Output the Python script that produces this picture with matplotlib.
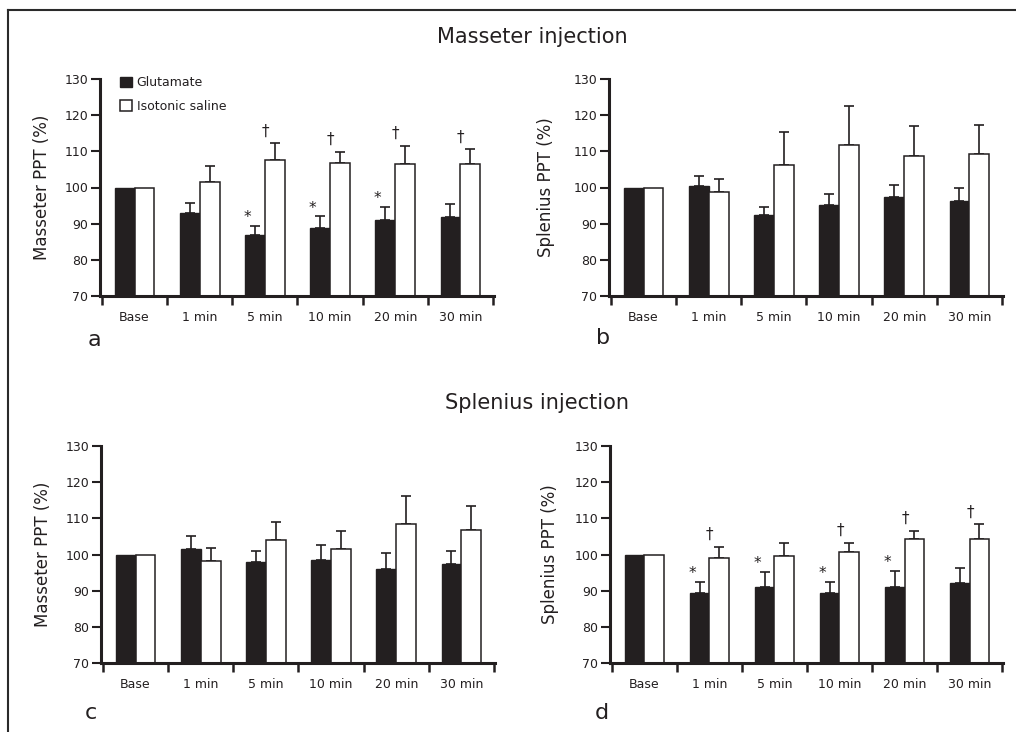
import numpy as np
import matplotlib
matplotlib.use("Agg")
import matplotlib.pyplot as plt
from matplotlib.patches import Patch
from matplotlib.lines import Line2D

plt.rcParams['font.family'] = ['DejaVu Sans']

categories = ["Base", "1 min", "5 min", "10 min", "20 min", "30 min"]
series_names = ["Glutamate", "Isotonic saline"]

# Panel a: Masseter injection, Masseter PPT
a_glu = [100, 93.0, 87.0, 88.7, 91.0, 91.8]
a_glu_err = [0, 2.6, 2.4, 3.3, 3.6, 3.5]
a_sal = [100, 101.4, 107.5, 106.9, 106.5, 106.5]
a_sal_err = [0, 4.6, 4.7, 2.9, 5.1, 4.1]
a_star = [0, 0, 1, 1, 1, 0]
a_dagger = [0, 0, 1, 1, 1, 1]

# Panel b: Masseter injection, Splenius PPT
b_glu = [100, 100.5, 92.4, 95.2, 97.5, 96.3]
b_glu_err = [0, 2.7, 2.2, 3.1, 3.3, 3.5]
b_sal = [100, 98.8, 106.3, 111.75, 108.8, 109.2]
b_sal_err = [0, 3.6, 9.0, 10.85, 8.2, 8.2]
b_star = [0, 0, 0, 0, 0, 0]
b_dagger = [0, 0, 0, 0, 0, 0]

# Panel c: Splenius injection, Masseter PPT
c_glu = [100, 101.5, 98.0, 98.5, 95.9, 97.3]
c_glu_err = [0, 3.6, 3.1, 4.1, 4.5, 3.8]
c_sal = [100, 98.2, 103.9, 101.6, 108.5, 106.9]
c_sal_err = [0, 3.6, 5.1, 5.0, 7.7, 6.6]
c_star = [0, 0, 0, 0, 0, 0]
c_dagger = [0, 0, 0, 0, 0, 0]

# Panel d: Splenius injection, Splenius PPT
d_glu = [100, 89.4, 91.0, 89.4, 91.0, 92.0]
d_glu_err = [0, 3.0, 4.2, 3.0, 4.5, 4.4]
d_sal = [100, 99.1, 99.7, 100.7, 104.4, 104.4]
d_sal_err = [0, 3.0, 3.5, 2.6, 2.2, 4.0]
d_star = [0, 1, 1, 1, 1, 0]
d_dagger = [0, 1, 0, 1, 1, 1]

yticks = [70, 80, 90, 100, 110, 120, 130]
titles = ["Masseter injection", "Splenius injection"]
ylabels = ["Masseter PPT (%)", "Splenius PPT (%)", "Masseter PPT (%)", "Splenius PPT (%)"]
letters = ["a", "b", "c", "d"]

INK = "#231f20"
W, H = 1016, 732
fig = plt.figure(figsize=(W / 100, H / 100), dpi=100)

def px_axes(left, right, top, bottom):
    return fig.add_axes([left / W, 1 - bottom / H, (right - left) / W, (bottom - top) / H])

boxes = [(100, 494, 79, 296), (609, 1003, 79, 296),
         (101, 495, 446, 663), (610, 1003, 446, 663)]
ylab_x = [-0.147, -0.16, -0.147, -0.152]
letter_pos = [(94, 340), (603, 338), (91, 713), (602, 713)]

panels = [
    (a_glu, a_glu_err, a_sal, a_sal_err, a_star, a_dagger),
    (b_glu, b_glu_err, b_sal, b_sal_err, b_star, b_dagger),
    (c_glu, c_glu_err, c_sal, c_sal_err, c_star, c_dagger),
    (d_glu, d_glu_err, d_sal, d_sal_err, d_star, d_dagger),
]

x = np.arange(len(categories))
w = 0.305

for i, (glu, gerr, sal, serr, star, dag) in enumerate(panels):
    ax = px_axes(*boxes[i])
    glu = np.array(glu); gerr = np.array(gerr)
    sal = np.array(sal); serr = np.array(serr)
    xg = x - w / 2
    xs = x + w / 2
    ax.bar(xg, glu, w, color=INK, edgecolor=INK, linewidth=1.0, zorder=2)
    ax.bar(xs, sal, w, color="white", edgecolor=INK, linewidth=1.1, zorder=2)
    mg = gerr > 0
    ms = serr > 0
    ax.errorbar(xg[mg], glu[mg], yerr=[np.zeros(mg.sum()), gerr[mg]], fmt='none',
                ecolor=INK, elinewidth=1.2, capsize=3.3, capthick=1.2, zorder=1)
    ax.errorbar(xs[ms], sal[ms], yerr=[np.zeros(ms.sum()), serr[ms]], fmt='none',
                ecolor=INK, elinewidth=1.2, capsize=3.3, capthick=1.2, zorder=1)
    for j in range(len(categories)):
        if star[j]:
            ax.text(xg[j] - 0.38 * w, glu[j] + gerr[j] + 2.3, "*", ha="center", va="center",
                    fontsize=11, color=INK)
        if dag[j]:
            ax.text(xs[j] - 0.48 * w, sal[j] + serr[j] + 3.4, "\u2020", ha="center", va="center",
                    fontsize=11, color=INK)

    ax.set_xlim(-0.53, 5.515)
    ax.set_ylim(70, 130)
    ax.set_yticks(yticks)
    ax.set_xticks(x)
    ax.set_xticklabels(categories)
    ax.set_xticks(np.arange(-0.5, len(categories), 1.0), minor=True)
    ax.tick_params(axis='x', which='major', length=0, pad=11, labelsize=9, colors=INK)
    ax.tick_params(axis='x', which='minor', length=6.5, width=1.8, direction='out', color=INK)
    ax.tick_params(axis='y', which='major', length=6.3, width=1.5, pad=2, labelsize=9, colors=INK)
    for s in ['top', 'right']:
        ax.spines[s].set_visible(False)
    for s in ['left', 'bottom']:
        ax.spines[s].set_linewidth(2.2)
        ax.spines[s].set_color(INK)
    ax.patch.set_alpha(0)
    ax.text(ylab_x[i], 0.5, ylabels[i], transform=ax.transAxes, rotation=90,
            ha="center", va="center", fontsize=12, color=INK)
    lx, ly = letter_pos[i]
    fig.text(lx / W, 1 - ly / H, letters[i], ha="center", va="center", fontsize=16, color=INK)

    if i == 0:
        handles = [Patch(facecolor=INK, edgecolor=INK, linewidth=1.0),
                   Patch(facecolor="white", edgecolor=INK, linewidth=1.1)]
        leg = ax.legend(handles, series_names, loc="upper left", bbox_to_anchor=(0.05, 1.012),
                        frameon=False, fontsize=9, handlelength=0.95, handleheight=0.95,
                        handletextpad=0.4, labelspacing=0.85, borderpad=0, borderaxespad=0)
        for t in leg.get_texts():
            t.set_color(INK)

fig.text(532 / W, 1 - 37 / H, titles[0], ha="center", va="center", fontsize=15, color=INK)
fig.text(537 / W, 1 - 403 / H, titles[1], ha="center", va="center", fontsize=15, color=INK)

# outer frame (top and left edges)
fig.add_artist(Line2D([8 / W, 1.0], [1 - 10 / H, 1 - 10 / H], transform=fig.transFigure,
                      color="#2a2a2a", linewidth=1.5))
fig.add_artist(Line2D([8 / W, 8 / W], [1 - 10 / H, 0.0], transform=fig.transFigure,
                      color="#2a2a2a", linewidth=1.5))

fig.savefig("out.png", dpi=100, facecolor="white")
